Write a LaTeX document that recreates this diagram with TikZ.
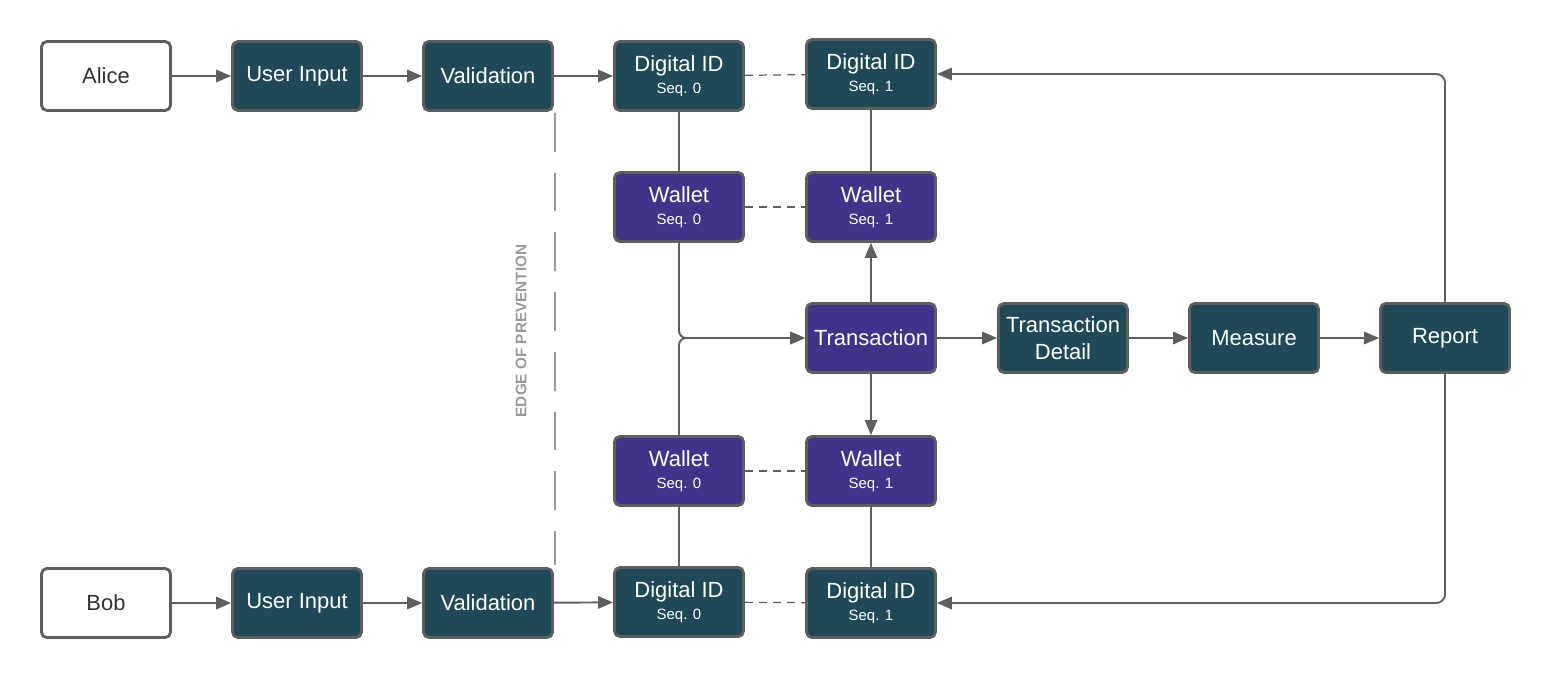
\documentclass[tikz,border=0pt]{standalone}
\usepackage{fontspec}
\setmainfont{Liberation Sans}
\usetikzlibrary{arrows.meta}

\definecolor{tealbox}{HTML}{1F4957}
\definecolor{purplebox}{HTML}{433289}
\definecolor{edgegray}{HTML}{5E5E5E}
\definecolor{fencegray}{HTML}{9A9A9A}

\tikzset{
  box/.style={draw=edgegray, line width=1.6pt, rounded corners=3pt,
    minimum width=2.58cm, minimum height=1.38cm, inner sep=1pt,
    align=center, font=\fontsize{12.5}{15}\selectfont, text=white},
  person/.style={box, fill=white, text=black!80},
  stepbox/.style={box, fill=tealbox},
  walletbox/.style={box, fill=purplebox},
  link/.style={draw=edgegray, line width=1.1pt},
  tie/.style={draw=edgegray, line width=0.7pt, dash pattern=on 4.5pt off 3.5pt},
  >={Triangle[length=8.5pt,width=7pt]}
}
\newcommand{\seqlabel}[2]{#1\\[-2.4pt]{\fontsize{8.5}{10}\selectfont #2}}

\begin{document}
\begin{tikzpicture}[x=0.02cm,y=-0.02cm]
\useasboundingbox (0,0) rectangle (1551,680);

% top row (Alice)
\node[person] (alice) at (106,76) {Alice};
\node[stepbox] (inA) at (297,76) {User Input};
\node[stepbox] (valA) at (488,76) {Validation};
\node[stepbox] (idA0) at (679,76) {\seqlabel{Digital ID}{Seq. 0}};
\node[stepbox] (idA1) at (871,74) {\seqlabel{Digital ID}{Seq. 1}};
\node[walletbox] (walA0) at (679,207) {\seqlabel{Wallet}{Seq. 0}};
\node[walletbox] (walA1) at (871,207) {\seqlabel{Wallet}{Seq. 1}};

% middle row
\node[walletbox] (tx) at (871,338) {Transaction};
\node[stepbox] (detail) at (1063,338) {Transaction\\Detail};
\node[stepbox] (measure) at (1254,338) {Measure};
\node[stepbox] (report) at (1445,338) {Report};

% bottom row (Bob)
\node[walletbox] (walB0) at (679,471) {\seqlabel{Wallet}{Seq. 0}};
\node[walletbox] (walB1) at (871,471) {\seqlabel{Wallet}{Seq. 1}};
\node[person] (bob) at (106,603) {Bob};
\node[stepbox] (inB) at (297,603) {User Input};
\node[stepbox] (valB) at (488,603) {Validation};
\node[stepbox] (idB0) at (679,602) {\seqlabel{Digital ID}{Seq. 0}};
\node[stepbox] (idB1) at (871,603) {\seqlabel{Digital ID}{Seq. 1}};

% edge of prevention
\coordinate (fenceTop) at (555,113);
\coordinate (fenceBot) at (555,565);
\draw[fencegray, line width=1.3pt, dash pattern=on 22pt off 12pt] (fenceTop) -- (fenceBot);
\node[rotate=90, text=fencegray, font=\bfseries\fontsize{8.7}{10}\selectfont] (fenceLabel) at (521,331) {EDGE OF PREVENTION};

% flows
\draw[link,->] (alice) -- (inA);
\draw[link,->] (inA) -- (valA);
\draw[link,->] (valA) -- (idA0);
\draw[link,->] (bob) -- (inB);
\draw[link,->] (inB) -- (valB);
\draw[link,->] (valB) -- (idB0);

\draw[tie] (idA0) -- (idA1);
\draw[tie] (walA0) -- (walA1);
\draw[tie] (walB0) -- (walB1);
\draw[tie] (idB0) -- (idB1);

\draw[link] (idA0) -- (walA0);
\draw[link] (idA1) -- (walA1);
\draw[link] (idB0) -- (walB0);
\draw[link] (idB1) -- (walB1);

\draw[link,rounded corners=4pt,->] (walA0.south) |- (tx.west);
\draw[link,rounded corners=4pt,->] (walB0.north) |- (tx.west);
\draw[link,->] (tx) -- (walA1);
\draw[link,->] (tx) -- (walB1);

\draw[link,->] (tx) -- (detail);
\draw[link,->] (detail) -- (measure);
\draw[link,->] (measure) -- (report);
\draw[link,rounded corners=5pt,->] (report.north) |- (idA1.east);
\draw[link,rounded corners=5pt,->] (report.south) |- (idB1.east);
\end{tikzpicture}
\end{document}
